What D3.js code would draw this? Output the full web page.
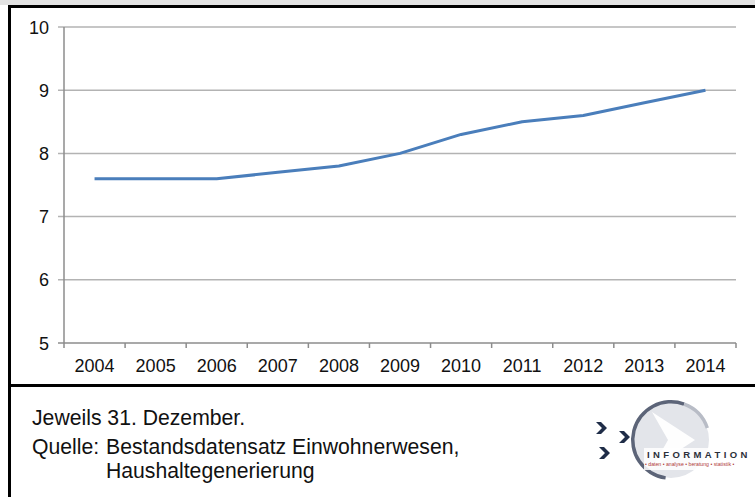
<!DOCTYPE html>
<html>
<head>
<meta charset="utf-8">
<script src="https://cdn.jsdelivr.net/npm/d3@7"></script>
<style>
  body { margin: 0; background: #fff; }
  svg { display: block; font-family: "Liberation Sans", Arial, sans-serif; }
</style>
</head>
<body>
<div id="chart"></div>
<script>
// Data
const years = ["2004", "2005", "2006", "2007", "2008", "2009", "2010", "2011", "2012", "2013", "2014"];
const values = [7.6, 7.6, 7.6, 7.7, 7.8, 8.0, 8.3, 8.5, 8.6, 8.8, 9.0];
const yTicks = [5, 6, 7, 8, 9, 10];
const noteLines = ["Jeweils 31. Dezember."];
const sourceLabel = "Quelle:";
const sourceLines = ["Bestandsdatensatz Einwohnerwesen,", "Haushaltegenerierung"];

const width = 755, height = 497;

const svg = d3.select("#chart")
  .append("svg")
  .attr("width", width)
  .attr("height", height);

// frame
svg.append("rect").attr("x", 0).attr("y", 0).attr("width", width).attr("height", 5).attr("fill", "#e2e2e2");
svg.append("rect").attr("x", 8).attr("y", 5).attr("width", width - 8).attr("height", 3).attr("fill", "#000");
svg.append("rect").attr("x", 8).attr("y", 5).attr("width", 3).attr("height", height - 5).attr("fill", "#000");
svg.append("rect").attr("x", 8).attr("y", 384).attr("width", width - 8).attr("height", 3).attr("fill", "#000");

// scales
const x = d3.scaleBand().domain(years).range([64, 736]).padding(0);
const y = d3.scaleLinear().domain([5, 10]).range([343, 27]);

// gridlines + y ticks
svg.append("g")
  .selectAll("line")
  .data(yTicks)
  .enter()
  .append("line")
  .attr("x1", 58)
  .attr("x2", 736)
  .attr("y1", d => y(d))
  .attr("y2", d => y(d))
  .attr("stroke", d => d === 5 ? "#8c8c8c" : "#b3b3b3")
  .attr("stroke-width", 1.5);

// y axis line
svg.append("line")
  .attr("x1", 64).attr("x2", 64)
  .attr("y1", y(10)).attr("y2", y(5))
  .attr("stroke", "#8c8c8c")
  .attr("stroke-width", 1.5);

// y labels
svg.append("g")
  .selectAll("text")
  .data(yTicks)
  .enter()
  .append("text")
  .attr("x", 49)
  .attr("y", d => y(d) + 6.5)
  .attr("text-anchor", "end")
  .attr("font-size", 18)
  .attr("fill", "#111")
  .text(d => d);

// x tick marks at category boundaries
const boundaries = years.map(d => x(d)).concat([x(years[years.length - 1]) + x.bandwidth()]);
svg.append("g")
  .selectAll("line")
  .data(boundaries)
  .enter()
  .append("line")
  .attr("x1", d => d).attr("x2", d => d)
  .attr("y1", y(5)).attr("y2", y(5) + 5)
  .attr("stroke", "#8c8c8c")
  .attr("stroke-width", 1.5);

// x labels
svg.append("g")
  .selectAll("text")
  .data(years)
  .enter()
  .append("text")
  .attr("x", d => x(d) + x.bandwidth() / 2)
  .attr("y", 372)
  .attr("text-anchor", "middle")
  .attr("font-size", 18)
  .attr("fill", "#111")
  .text(d => d);

// line
const line = d3.line()
  .x((d, i) => x(years[i]) + x.bandwidth() / 2)
  .y(d => y(d));

svg.append("path")
  .datum(values)
  .attr("d", line)
  .attr("fill", "none")
  .attr("stroke", "#4a7ebb")
  .attr("stroke-width", 3)
  .attr("stroke-linejoin", "round");

// footer notes
svg.append("text")
  .attr("x", 32).attr("y", 425)
  .attr("font-size", 21.2).attr("fill", "#111")
  .text(noteLines[0]);

svg.append("text")
  .attr("x", 32).attr("y", 454)
  .attr("font-size", 21.2).attr("fill", "#111")
  .text(sourceLabel);

svg.append("g")
  .selectAll("text")
  .data(sourceLines)
  .enter()
  .append("text")
  .attr("x", 106)
  .attr("y", (d, i) => 454 + i * 23.5)
  .attr("font-size", 21.2)
  .attr("fill", "#111")
  .text(d => d);

// logo
const logo = svg.append("g");
logo.append("circle").attr("cx", 671).attr("cy", 440).attr("r", 38).attr("fill", "#e3e5ea");
logo.append("path")
  .attr("d", "M652,412 L695,440 L652,468 L668,440 Z")
  .attr("fill", "#fff").attr("opacity", 0.95);
const arc = d3.arc().innerRadius(36.5).outerRadius(40);
logo.append("path")
  .attr("transform", "translate(671,440)")
  .attr("d", arc({ startAngle: -3.0, endAngle: 0.35 }))
  .attr("fill", "#5c6478");
logo.append("path")
  .attr("transform", "translate(671,440)")
  .attr("d", arc({ startAngle: 0.35, endAngle: 1.25 }))
  .attr("fill", "#b8bcc6");
const chevrons = [[596, 422], [619, 431], [599, 447]];
logo.selectAll(".chev")
  .data(chevrons)
  .enter()
  .append("path")
  .attr("class", "chev")
  .attr("d", d => `M${d[0]},${d[1]} l5,0 l6,6 l-6,6 l-5,0 l6,-6 Z`)
  .attr("fill", "#1f2d48");
logo.append("rect").attr("x", 644).attr("y", 448).attr("width", 111).attr("height", 22).attr("fill", "#fff").attr("opacity", 0.85);
logo.append("text")
  .attr("x", 647).attr("y", 458)
  .attr("font-size", 9.5).attr("font-weight", "bold")
  .attr("letter-spacing", 3.4)
  .attr("fill", "#2b2f3a")
  .text("INFORMATION");
logo.append("text")
  .attr("x", 645).attr("y", 466)
  .attr("font-size", 5.2)
  .attr("fill", "#b03a3a")
  .text("• daten • analyse • beratung • statistik •");
</script>
</body>
</html>
